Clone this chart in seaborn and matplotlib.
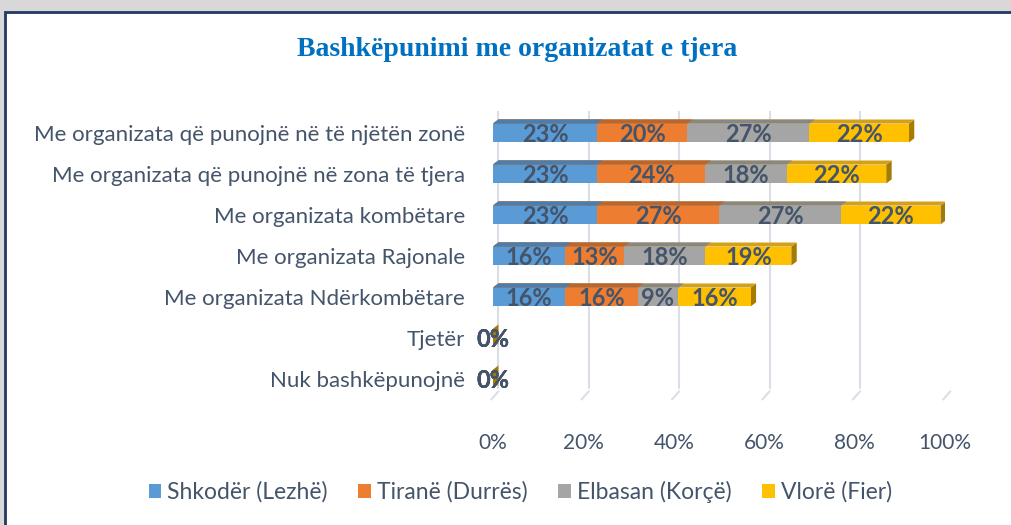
import numpy as np
import pandas as pd
import matplotlib
matplotlib.use("Agg")
import matplotlib.pyplot as plt
from matplotlib.patches import Polygon, Rectangle
import seaborn as sns

# Data
categories = [
    "Me organizata që punojnë në të njëtën zonë",
    "Me organizata që punojnë në zona të tjera",
    "Me organizata kombëtare",
    "Me organizata Rajonale",
    "Me organizata Ndërkombëtare",
    "Tjetër",
    "Nuk bashkëpunojnë",
]
regions = ["Shkodër (Lezhë)", "Tiranë (Durrës)", "Elbasan (Korçë)", "Vlorë (Fier)"]
shkoder = [0.23, 0.23, 0.23, 0.16, 0.16, 0.0, 0.0]
tirane = [0.20, 0.24, 0.27, 0.13, 0.16, 0.0, 0.0]
elbasan = [0.27, 0.18, 0.27, 0.18, 0.09, 0.0, 0.0]
vlore = [0.22, 0.22, 0.22, 0.19, 0.16, 0.0, 0.0]
xticks = [0, 0.2, 0.4, 0.6, 0.8, 1.0]

front = ["#5B9BD5", "#ED7D31", "#A5A5A5", "#FFC000"]
top = ["#4A7DB0", "#C0652A", "#878787", "#D4A017"]
side_col = "#A67C00"
text_col = "#44546A"

sns.set_theme(style="white")
plt.rcParams["font.family"] = ["Lato", "DejaVu Sans"]

df = pd.DataFrame({"cat": categories, regions[0]: shkoder, regions[1]: tirane,
                   regions[2]: elbasan, regions[3]: vlore})
vals = df[regions].to_numpy()
cum = vals.cumsum(axis=1)

fig = plt.figure(figsize=(10.12, 5.25), dpi=100)
fig.patch.set_facecolor("white")

# shadow + navy frame of the chart box
fig.patches.append(Rectangle((0, 0), 1, 1, transform=fig.transFigure,
                             facecolor="#D8D8D8", edgecolor="none", zorder=-3))
fig.patches.append(Rectangle((5 / 1012, -0.1), 1.1, 1 - 12 / 525 + 0.1,
                             transform=fig.transFigure, facecolor="white",
                             edgecolor="#1F3864", linewidth=2, zorder=-2))

ax = fig.add_axes([493 / 1012, 1 - 399.5 / 525, 452 / 1012, 289 / 525])
ax.set_facecolor("none")

# stacked bars: draw cumulative totals from the widest down
dx, dy = 0.012, 0.1
bh = 0.46
for k in range(len(regions) - 1, -1, -1):
    layer = pd.DataFrame({"cat": categories, "v": cum[:, k]})
    n_before = len(ax.patches)
    sns.barplot(data=layer, y="cat", x="v", orient="h", color=front[k],
                saturation=1, width=bh, ax=ax, zorder=10 + 2 * (4 - k),
                linewidth=0)
    for p in ax.patches[n_before:]:
        x0, y0 = p.get_x(), p.get_y()
        w = p.get_width()
        # thin top face for a 3D look
        ax.add_patch(Polygon([(x0, y0), (x0 + w, y0), (x0 + w + dx, y0 - dy),
                              (x0 + dx, y0 - dy)], closed=True,
                             facecolor=top[k], edgecolor="none",
                             zorder=11 + 2 * (4 - k)))
        if k == len(regions) - 1:
            ax.add_patch(Polygon([(x0 + w, y0), (x0 + w + dx, y0 - dy),
                                  (x0 + w + dx, y0 + bh - dy), (x0 + w, y0 + bh)],
                                 closed=True, facecolor=side_col,
                                 edgecolor="none", zorder=9))

# value labels
for i in range(len(categories)):
    for k in range(len(regions)):
        xc = cum[i, k] - vals[i, k] / 2
        ax.text(xc, i + 0.03, f"{vals[i, k] * 100:.0f}%", ha="center",
                va="center", fontsize=17, fontweight="bold", color=text_col,
                zorder=30)

ax.set_xlim(0, 1.0)
ax.set_ylim(6.5, -0.55)
ax.set_xticks(xticks)
ax.set_xticklabels([f"{t * 100:.0f}%" for t in xticks])
ax.tick_params(axis="x", length=0, pad=24, labelsize=15, colors=text_col)
ax.tick_params(axis="y", length=0, pad=20, labelsize=16, colors=text_col)
ax.set_xlabel("")
ax.set_ylabel("")
for s in ax.spines.values():
    s.set_visible(False)
for t in xticks:
    ax.axvline(t + 0.012, ymin=0.04, ymax=1, color="#DADEE6", lw=1.5, zorder=1)
    ax.plot([t - 0.004, t + 0.012], [6.5, 6.3], color="#DADEE6", lw=1.5,
            zorder=1, clip_on=False)

fig.text(0.511, 1 - 50 / 525, "Bashkëpunimi me organizatat e tjera",
         ha="center", va="center", fontsize=20, fontweight="bold",
         color="#0070C0", family=["Liberation Serif", "DejaVu Serif"])

handles = [Rectangle((0, 0), 1, 1, facecolor=c, edgecolor="none") for c in front]
leg = fig.legend(handles, regions, loc="center", bbox_to_anchor=(0.514, 1 - 492 / 525),
                 ncol=4, frameon=False, fontsize=16.5, handlelength=0.55,
                 handleheight=0.55, handletextpad=0.25, columnspacing=1.35,
                 labelcolor=text_col)

fig.savefig("out.png", dpi=100, facecolor=fig.get_facecolor())
